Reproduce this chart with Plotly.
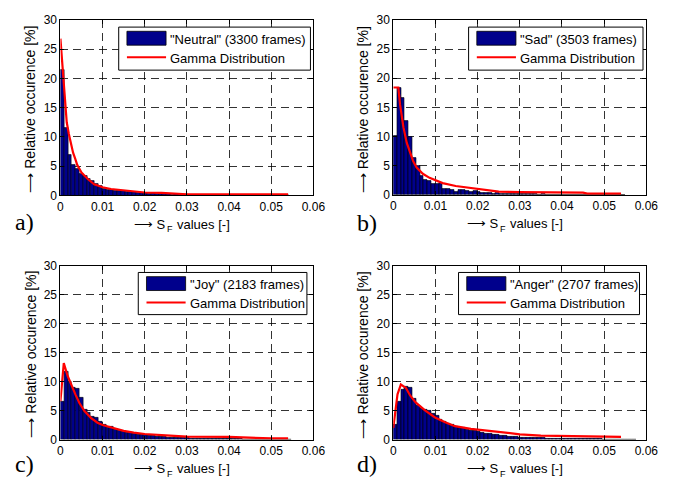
import numpy as np
import plotly.graph_objects as go

W, H = 687, 488

# Histogram bin width of the S_F values
BIN_WIDTH = 0.0009

# Relative occurrence [%] per bin, starting at S_F = 0
neutral_hist = [21.4, 11.6, 6.9, 5.2, 4.5, 3.7, 3.4, 2.8, 2.5, 2.0, 1.7, 1.2, 1.0, 1.0, 0.8,
                0.7, 0.75, 0.6, 0.55, 0.6, 0.45, 0.4, 0.4, 0.3, 0.35, 0.25, 0.25, 0.2, 0.2, 0.15,
                0.2, 0.1, 0.15, 0.1, 0.1, 0.1, 0.05, 0.1, 0.05, 0.05, 0.05, 0.05, 0.03, 0.05, 0.03,
                0.03, 0.03, 0.02, 0.03, 0.02, 0.02, 0.02, 0.02, 0.01, 0.02, 0.01, 0.01, 0.01, 0.01, 0.01]
sad_hist = [10.1, 18.4, 16.6, 12.6, 10.0, 6.4, 5.0, 3.3, 2.6, 2.3, 1.8, 1.9, 2.1, 1.0, 1.0,
            0.8, 0.55, 0.9, 0.8, 0.6, 0.5, 0.6, 0.45, 0.3, 0.3, 0.25, 0.2, 0.25, 0.2, 0.15,
            0.15, 0.1, 0.15, 0.1, 0.1, 0.1, 0.08, 0.08, 0.05, 0.06, 0.05, 0.05, 0.05, 0.04, 0.04,
            0.03, 0.03, 0.03, 0.02, 0.03, 0.02, 0.02, 0.02, 0.02, 0.01, 0.02, 0.01, 0.01, 0.01, 0.01, 0.01]
joy_hist = [6.5, 11.7, 10.0, 8.9, 8.7, 7.2, 5.1, 4.6, 4.0, 3.8, 3.0, 2.6, 2.1, 2.3, 1.7,
            1.5, 1.3, 1.2, 1.1, 1.0, 0.9, 0.85, 0.8, 0.7, 0.6, 0.5, 0.5, 0.45, 0.4, 0.35,
            0.3, 0.3, 0.25, 0.25, 0.2, 0.2, 0.2, 0.15, 0.15, 0.15, 0.12, 0.12, 0.1, 0.1, 0.1,
            0.08, 0.08, 0.07, 0.06, 0.06, 0.05, 0.05, 0.05, 0.04, 0.04, 0.03, 0.03, 0.03, 0.02, 0.02, 0.02]
anger_hist = [2.5, 6.6, 8.6, 9.1, 9.0, 7.0, 5.9, 5.4, 5.2, 5.0, 4.4, 4.1, 3.4, 3.1, 2.8,
              2.6, 2.3, 2.0, 2.0, 1.7, 1.6, 1.5, 1.4, 1.2, 1.0, 1.0, 0.9, 0.8, 0.7, 0.6,
              0.55, 0.5, 0.45, 0.4, 0.35, 0.35, 0.3, 0.3, 0.25, 0.25, 0.2, 0.2, 0.2, 0.15, 0.15,
              0.15, 0.12, 0.12, 0.1, 0.1, 0.1, 0.1, 0.08, 0.08, 0.08, 0.06, 0.06, 0.05, 0.05, 0.05,
              0.04, 0.05, 0.04, 0.04]

# Fitted gamma distribution curves
neutral_fit_x = [0, 0.0005, 0.001, 0.0015, 0.002, 0.0025, 0.003, 0.0035, 0.004, 0.005, 0.0065,
                 0.008, 0.010, 0.012, 0.016, 0.020, 0.024, 0.028, 0.030, 0.040, 0.050, 0.054]
neutral_fit_y = [26.8, 21.5, 16.5, 12.5, 10.5, 8.6, 7.3, 6.3, 5.2, 3.9, 2.8,
                 1.9, 1.4, 1.1, 0.8, 0.5, 0.45, 0.35, 0.2, 0.2, 0.2, 0.2]
sad_fit_x = [0, 0.0012, 0.0016, 0.002, 0.0024, 0.0032, 0.004, 0.0047, 0.0055, 0.007, 0.0086,
             0.010, 0.0117, 0.0148, 0.0198, 0.0226, 0.025, 0.030, 0.045, 0.046, 0.054]
sad_fit_y = [18.4, 18.4, 15.5, 13.4, 11.6, 8.9, 7.2, 5.8, 4.7, 3.6, 2.9,
             2.5, 2.0, 1.5, 1.0, 0.7, 0.55, 0.45, 0.35, 0.2, 0.2]
joy_fit_x = [0, 0.0008, 0.0017, 0.0026, 0.0036, 0.0045, 0.0057, 0.0073, 0.0088, 0.010, 0.012,
             0.015, 0.0174, 0.020, 0.025, 0.030, 0.040, 0.045, 0.050, 0.054]
joy_fit_y = [6.6, 13.2, 11.0, 9.3, 7.7, 6.3, 4.9, 3.7, 2.9, 2.5, 2.1,
             1.5, 1.2, 0.95, 0.7, 0.5, 0.45, 0.3, 0.2, 0.2]
anger_fit_x = [0, 0.0005, 0.001, 0.0018, 0.003, 0.004, 0.0053, 0.0076, 0.0099, 0.0123, 0.0146,
               0.0184, 0.022, 0.025, 0.030, 0.035, 0.040, 0.045, 0.050, 0.054]
anger_fit_y = [2.0, 5.5, 7.8, 9.5, 8.9, 7.6, 6.4, 5.0, 3.8, 3.0, 2.3,
               1.85, 1.55, 1.2, 0.9, 0.67, 0.6, 0.5, 0.45, 0.45]

legend_labels = ['"Neutral" (3300 frames)', '"Sad" (3503 frames)',
                 '"Joy" (2183 frames)', '"Anger" (2707 frames)']
fit_label = "Gamma Distribution"
panel_letters = ["a)", "b)", "c)", "d)"]

x_tick_vals = [0, 0.01, 0.02, 0.03, 0.04, 0.05, 0.06]
x_tick_text = ["0", "0.01", "0.02", "0.03", "0.04", "0.05", "0.06"]
y_tick_vals = [0, 5, 10, 15, 20, 25, 30]
y_tick_text = ["0", "5", "10", "15", "20", "25", "30"]

# x title is set in three pieces: "⟶ S", subscript "F", "values [-]"
x_title_head = "\u27f6 S"
x_title_sub = "F"
x_title_tail = "values [-]"
y_title = "\u27f6 Relative occurence [%]"

hists = [neutral_hist, sad_hist, joy_hist, anger_hist]
fits = [(neutral_fit_x, neutral_fit_y), (sad_fit_x, sad_fit_y),
        (joy_fit_x, joy_fit_y), (anger_fit_x, anger_fit_y)]

# Layout geometry in pixels: plot area (left, right, top, bottom)
plot_boxes = [(58.7, 317.3, 13.3, 194.0), (399.0, 657.7, 13.3, 193.3),
              (58.7, 317.3, 266.3, 445.3), (399.0, 657.7, 266.3, 445.3)]
# legend frame (left, right, top, bottom)
legend_boxes = [(118.3, 314.3, 20.7, 65.0), (476.0, 654.3, 20.7, 65.0),
                (138.3, 310.7, 273.3, 316.7), (465.7, 650.7, 273.3, 316.7)]
letter_pos = [(22, 221), (372.5, 222), (22, 471), (372.5, 470)]

NAVY = "rgb(0,0,140)"
RED = "rgb(255,0,0)"
SANS = "Liberation Sans, Arial, Helvetica, sans-serif"
SERIF = "Liberation Serif, Times New Roman, serif"


def px(x):
    return x / W


def py(y):
    return 1 - y / H


def text_note(text, x, y, size, xanchor="center", family=SANS, angle=0):
    return dict(text=text, xref="paper", yref="paper", x=px(x), y=py(y),
                xanchor=xanchor, yanchor="middle", showarrow=False, textangle=angle,
                borderpad=0, borderwidth=0,
                font=dict(family=family, size=size, color="black"))


fig = go.Figure()
layout = dict(
    width=W, height=H, margin=dict(l=0, r=0, t=0, b=0),
    paper_bgcolor="white", plot_bgcolor="white", showlegend=False,
    font=dict(family=SANS, size=12, color="black"),
    bargap=0,
)
shapes = []
annotations = []

for i in range(4):
    sfx = "" if i == 0 else str(i + 1)
    xa, ya = "x" + sfx, "y" + sfx
    left, right, top, bottom = plot_boxes[i]

    heights = hists[i]
    centers = BIN_WIDTH * (np.arange(len(heights)) + 0.5)
    fig.add_trace(go.Bar(
        x=centers, y=heights, width=BIN_WIDTH, xaxis=xa, yaxis=ya,
        marker=dict(color=NAVY, line=dict(color="black", width=0.6)),
        hoverinfo="skip",
    ))
    fx, fy = fits[i]
    fig.add_trace(go.Scatter(
        x=fx, y=fy, mode="lines", xaxis=xa, yaxis=ya,
        line=dict(color=RED, width=2.2), hoverinfo="skip",
    ))

    axis_common = dict(
        showline=True, mirror="ticks", linecolor="black", linewidth=1,
        ticks="inside", ticklen=4, tickcolor="black", tickwidth=1,
        showgrid=True, gridcolor="rgba(0,0,0,0.8)", gridwidth=1, griddash="8px,5px",
        zeroline=False, tickfont=dict(family=SANS, size=12, color="black"),
    )
    layout["xaxis" + sfx] = dict(
        axis_common, domain=[px(left), px(right)], anchor=ya, range=[0, 0.06],
        tickmode="array", tickvals=x_tick_vals, ticktext=x_tick_text,
    )
    layout["yaxis" + sfx] = dict(
        axis_common, domain=[py(bottom), py(top)], anchor=xa, range=[0, 30],
        tickmode="array", tickvals=y_tick_vals, ticktext=y_tick_text,
    )

    # axis titles
    cx = (left + right) / 2
    annotations.append(text_note(x_title_head, cx - 21, bottom + 30, 13, xanchor="right"))
    annotations.append(text_note(x_title_sub, cx - 20.5, bottom + 35, 9, xanchor="left"))
    annotations.append(text_note(x_title_tail, cx - 10, bottom + 30, 13, xanchor="left"))
    annotations.append(text_note(y_title, left - 31, (top + bottom) / 2 + 2, 14, angle=-90))
    # panel letter
    lx, ly = letter_pos[i]
    annotations.append(text_note(panel_letters[i], lx, ly, 24, family=SERIF))

    # legend frame with swatches
    bl, br, bt, bb = legend_boxes[i]
    shapes.append(dict(type="rect", xref="paper", yref="paper",
                       x0=px(bl), x1=px(br), y0=py(bb), y1=py(bt),
                       fillcolor="white", line=dict(color="black", width=1), layer="above"))
    sw_l, sw_r = bl + 8.4, bl + 48.4
    shapes.append(dict(type="rect", xref="paper", yref="paper",
                       x0=px(sw_l), x1=px(sw_r), y0=py(bt + 18.6), y1=py(bt + 4.3),
                       fillcolor=NAVY, line=dict(color="black", width=0.8), layer="above"))
    shapes.append(dict(type="line", xref="paper", yref="paper",
                       x0=px(sw_l), x1=px(sw_r), y0=py(bt + 31), y1=py(bt + 31),
                       line=dict(color=RED, width=2), layer="above"))
    annotations.append(text_note(legend_labels[i], bl + 52.5, bt + 12.3, 13, xanchor="left"))
    annotations.append(text_note(fit_label, bl + 52.5, bt + 32, 13, xanchor="left"))

layout["shapes"] = shapes
layout["annotations"] = annotations
fig.update_layout(**layout)
fig.write_html("out.html")
